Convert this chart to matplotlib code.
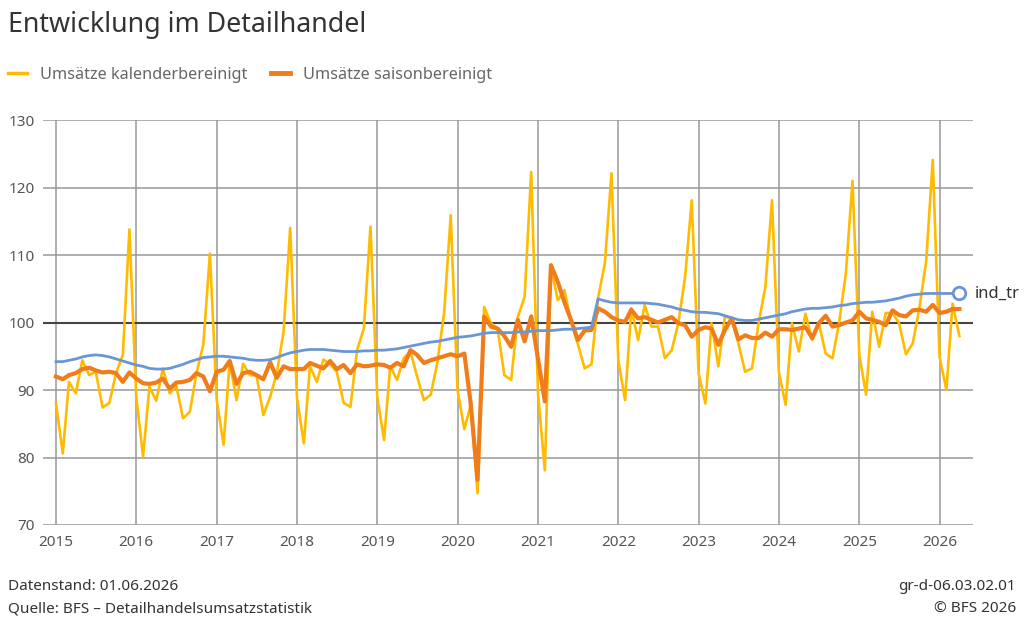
import pandas as pd
import matplotlib.pyplot as plt
import matplotlib.dates as mdates
from matplotlib.lines import Line2D

plt.rcParams['font.family'] = ['Noto Sans', 'DejaVu Sans']

# monthly values, Jan 2015 .. Apr 2026
kalender = [
    88.0, 80.6, 91.2, 89.5, 94.4, 92.2, 92.7, 87.4, 88.1, 92.5, 95.2, 113.8,
    89.0, 80.1, 90.5, 88.4, 93.2, 89.5, 90.6, 85.8, 86.8, 92.5, 96.7, 110.2,
    88.5, 81.9, 94.2, 88.5, 93.9, 92.2, 92.2, 86.3, 89.0, 92.5, 98.6, 114.0,
    88.8, 82.1, 93.5, 91.2, 94.5, 93.8, 92.7, 88.1, 87.5, 95.9, 99.1, 114.2,
    89.0, 82.6, 93.5, 91.5, 94.7, 95.7, 92.0, 88.5, 89.3, 94.0, 101.4, 115.9,
    90.0, 84.2, 87.8, 74.7, 102.3, 99.9, 99.1, 92.2, 91.5, 100.8, 103.8, 122.3,
    89.5, 78.1, 108.3, 103.3, 104.8, 100.0, 96.8, 93.2, 93.8, 103.6, 108.8, 122.1,
    94.4, 88.5, 102.1, 97.4, 102.6, 99.4, 99.4, 94.7, 95.9, 99.9, 106.8, 118.1,
    92.5, 88.0, 99.9, 93.5, 100.9, 100.6, 96.9, 92.7, 93.2, 99.9, 105.3, 118.1,
    92.7, 87.8, 99.9, 95.7, 101.3, 97.4, 99.9, 95.4, 94.7, 99.9, 107.3, 121.0,
    95.2, 89.3, 101.6, 96.4, 101.4, 101.4, 99.9, 95.3, 96.9, 102.1, 109.0, 124.1,
    94.9, 90.0, 102.8, 98.0,
]
saison = [
    92.0, 91.6, 92.2, 92.5, 93.1, 93.3, 92.9, 92.6, 92.7, 92.5, 91.2, 92.6,
    91.7, 91.0, 90.9, 91.1, 91.7, 90.2, 91.1, 91.2, 91.5, 92.5, 92.0, 89.8,
    92.7, 93.0, 94.3, 90.9, 92.5, 92.7, 92.2, 91.6, 94.1, 91.8, 93.5, 93.1,
    93.1, 93.1, 94.0, 93.6, 93.2, 94.3, 93.1, 93.7, 92.5, 93.8, 93.5, 93.6,
    93.8, 93.7, 93.3, 94.0, 93.5, 95.9, 95.2, 94.0, 94.4, 94.7, 95.0, 95.3,
    95.0, 95.4, 88.0, 76.7, 100.9, 99.4, 99.1, 98.0, 96.4, 100.4, 97.2, 100.9,
    94.6, 88.3, 108.5, 106.0, 103.0, 100.3, 97.4, 98.8, 98.9, 102.1, 101.6, 100.8,
    100.3, 100.1, 101.9, 100.6, 100.8, 100.4, 100.0, 100.4, 100.8, 99.9, 99.6, 97.9,
    98.9, 99.3, 99.1, 96.7, 98.9, 100.6, 97.5, 98.1, 97.7, 97.7, 98.5, 97.9,
    99.0, 99.0, 98.9, 99.1, 99.3, 97.7, 99.9, 101.0, 99.4, 99.6, 100.0, 100.3,
    101.6, 100.6, 100.4, 100.1, 99.6, 101.8, 101.1, 100.9, 101.8, 101.9, 101.6, 102.6,
    101.4, 101.6, 102.0, 102.0,
]
trend = [
    94.2, 94.2, 94.4, 94.6, 94.9, 95.1, 95.2, 95.1, 94.9, 94.6, 94.3, 94.0,
    93.7, 93.5, 93.2, 93.1, 93.1, 93.2, 93.5, 93.8, 94.2, 94.5, 94.8, 94.9,
    95.0, 95.0, 94.9, 94.8, 94.7, 94.5, 94.4, 94.4, 94.5, 94.8, 95.2, 95.5,
    95.7, 95.9, 96.0, 96.0, 96.0, 95.9, 95.8, 95.7, 95.7, 95.7, 95.8, 95.8,
    95.9, 95.9, 96.0, 96.1, 96.3, 96.5, 96.7, 96.9, 97.1, 97.2, 97.4, 97.6,
    97.8, 97.9, 98.0, 98.2, 98.4, 98.5, 98.5, 98.5, 98.5, 98.6, 98.6, 98.7,
    98.8, 98.8, 98.8, 98.9, 99.0, 99.0, 99.1, 99.2, 99.3, 103.5, 103.2, 103.0,
    102.9, 102.9, 102.9, 102.9, 102.9, 102.8, 102.7, 102.5, 102.3, 102.0, 101.8, 101.6,
    101.5, 101.5, 101.4, 101.3, 101.0, 100.7, 100.4, 100.3, 100.3, 100.5, 100.7, 100.9,
    101.1, 101.3, 101.6, 101.8, 102.0, 102.1, 102.1, 102.2, 102.3, 102.5, 102.6, 102.8,
    102.9, 103.0, 103.0, 103.1, 103.2, 103.4, 103.6, 103.9, 104.1, 104.2, 104.3, 104.3,
    104.3, 104.3, 104.3, 104.3,
]
dates = pd.date_range("2015-01-01", periods=len(kalender), freq="MS")
years = list(range(2015, 2027))

c_yellow = "#ffbb00"
c_orange = "#f07d1a"
c_blue = "#6b96d4"

fig = plt.figure(figsize=(10.24, 6.29), dpi=100)
ax = fig.add_axes([43 / 1024, 1 - 525 / 629, 930 / 1024, 405 / 629])

ax.plot(dates, kalender, color=c_yellow, lw=1.9, zorder=3)
ax.plot(dates, saison, color=c_orange, lw=3.0, zorder=4)
ax.plot(dates, trend, color=c_blue, lw=2.0, zorder=5)
ax.plot(dates[-1:], trend[-1:], marker="o", ms=9, mfc="white", mec=c_blue,
        mew=2, ls="none", zorder=6)
ax.annotate("ind_tr", (dates[-1], trend[-1]), xytext=(11, 0), textcoords="offset points",
            va="center", ha="left", fontsize=12, color="#333333")

ax.axhline(100, color="#444444", lw=1.5, zorder=2)

ax.set_ylim(70, 130)
ax.set_yticks(range(70, 131, 10))
ax.set_xlim(pd.Timestamp("2014-11-03"), pd.Timestamp("2026-06-02"))
ax.set_xticks([pd.Timestamp(f"{y}-01-01") for y in years])
ax.xaxis.set_major_formatter(mdates.DateFormatter("%Y"))
ax.grid(True, color="#999999", lw=1.1, zorder=1)
ax.set_axisbelow(True)
for s in ax.spines.values():
    s.set_visible(False)
ax.tick_params(length=0, labelsize=11, labelcolor="#555555")
ax.tick_params(axis="y", pad=6)
ax.tick_params(axis="x", pad=7)

fig.text(8 / 1024, 1 - 25 / 629, "Entwicklung im Detailhandel", fontsize=19.3,
         color="#333333", va="center", ha="left")

handles = [Line2D([], [], color=c_yellow, lw=2.5), Line2D([], [], color=c_orange, lw=3.5)]
fig.legend(handles, ["Umsätze kalenderbereinigt", "Umsätze saisonbereinigt"],
           loc="center left", bbox_to_anchor=(8 / 1024, 1 - 75 / 629), ncol=2,
           frameon=False, fontsize=11.7, labelcolor="#666666", handlelength=1.15,
           handletextpad=0.8, columnspacing=1.5, borderpad=0, borderaxespad=0)

fig.text(8 / 1024, 1 - 587 / 629, "Datenstand: 01.06.2026", fontsize=11,
         color="#333333", va="center")
fig.text(8 / 1024, 1 - 609 / 629, "Quelle: BFS – Detailhandelsumsatzstatistik", fontsize=11,
         color="#333333", va="center")
fig.text(1016 / 1024, 1 - 587 / 629, "gr-d-06.03.02.01", fontsize=11,
         color="#333333", va="center", ha="right")
fig.text(1016 / 1024, 1 - 609 / 629, "© BFS 2026", fontsize=11,
         color="#333333", va="center", ha="right")

plt.savefig("out.png", dpi=100)
